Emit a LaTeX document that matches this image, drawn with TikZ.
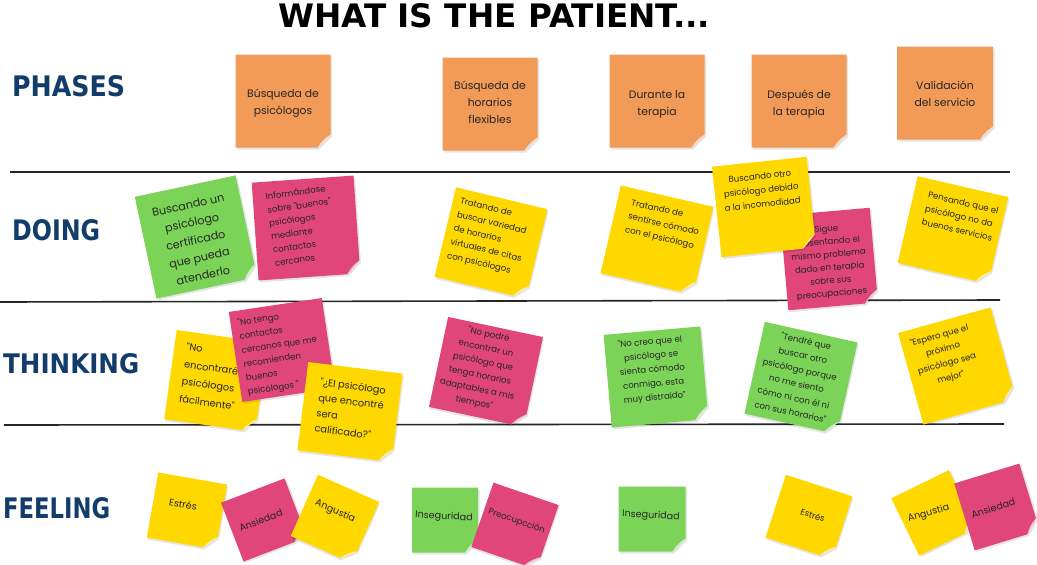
\documentclass[tikz,border=0pt]{standalone}
\usepackage{fontspec}
\usepackage{graphicx}
\newfontfamily\notefont{Poppins}
\newfontfamily\labfont{DejaVu Sans}
\definecolor{noteorange}{HTML}{F29A57}
\definecolor{noteyellow}{HTML}{FFD800}
\definecolor{notegreen}{HTML}{7BD458}
\definecolor{notepink}{HTML}{E04679}
\definecolor{labblue}{HTML}{123D6A}
\tikzset{
  notetext/.style={transform shape, inner sep=0pt, align=center, text=black!85},
  fs/.style={font=\notefont\fontsize{8.6}{14}\selectfont},
  fm/.style={font=\notefont\fontsize{9.6}{15.5}\selectfont},
  fl/.style={font=\notefont\fontsize{11.2}{18}\selectfont},
  fph/.style={font=\notefont\fontsize{10.8}{17}\selectfont},
  rowline/.style={line width=1.6pt, black!85},
  lab/.style={anchor=north west, inner sep=0pt, text=labblue}
}
% #1 name, #2 centre, #3 angle, #4 w, #5 h, #6 colour, #7 text offset, #8 text, #9 text options
\newcommand\sticky[9]{%
\begin{scope}[shift={#2},rotate=#3]
\fill[black,opacity=.10] (-#4/2+1.5,-#5/2+2) -- (#4/2+1.5,-#5/2+2) -- (#4/2+1.5,#5/2-13+2) -- (#4/2-13+1.5,#5/2+2) -- (-#4/2+1.5,#5/2+2) -- cycle;
\fill[#6] (-#4/2,-#5/2) -- (#4/2,-#5/2) -- (#4/2,#5/2-13) -- (#4/2-13,#5/2) -- (-#4/2,#5/2) -- cycle;
\fill[#6!30!white] (#4/2,#5/2-13) -- (#4/2-13,#5/2) .. controls (#4/2-9,#5/2-6) and (#4/2-6,#5/2-9) .. cycle;
\node[notetext,#9] (#1) at #7 {#8};
\end{scope}}
\begin{document}
\begin{tikzpicture}[x=1pt,y=-1pt]
\useasboundingbox (0,0) rectangle (1037,565);
\fill[white] (0,0) rectangle (1037,565);
% row lines
\coordinate (l1a) at (10,172); \coordinate (l1b) at (1010,172);
\coordinate (l2a) at (0,302); \coordinate (l2b) at (1000,300);
\coordinate (l3a) at (4,425); \coordinate (l3b) at (1004,424);
\draw[rowline] (l1a) -- (l1b);
\draw[rowline] (l2a) -- (l2b);
\draw[rowline] (l3a) -- (l3b);
% title and labels
\node[anchor=north west, inner sep=0pt] (title) at (278,3) {\resizebox{432pt}{24pt}{\labfont\bfseries WHAT IS THE PATIENT...}};
\node[lab] (lphases) at (12,75) {\resizebox{113pt}{21pt}{\labfont\bfseries PHASES}};
\node[lab] (ldoing) at (12,219) {\resizebox{88pt}{21pt}{\labfont\bfseries DOING}};
\node[lab] (lthinking) at (3,353) {\resizebox{136pt}{20pt}{\labfont\bfseries THINKING}};
\node[lab] (lfeeling) at (3,497) {\resizebox{107pt}{21pt}{\labfont\bfseries FEELING}};
% phases
\sticky{p1}{(283,101)}{0}{95}{93}{noteorange}{(0,2)}{Búsqueda de\\psicólogos}{fph}
\sticky{p2}{(490,104)}{0}{95}{93}{noteorange}{(0,-2)}{Búsqueda de\\horarios\\flexibles}{fph}
\sticky{p3}{(657,101)}{0}{95}{93}{noteorange}{(0,3)}{Durante la\\terapia}{fph}
\sticky{p4}{(799,101)}{0}{95}{93}{noteorange}{(0,3)}{Después de\\la terapia}{fph}
\sticky{p5}{(945,93)}{0}{96}{93}{noteorange}{(0,1)}{Validación\\del servicio}{fph}
% doing
\sticky{d1}{(196,237)}{12}{103}{104}{notegreen}{(-1,3)}{Buscando un\\psicólogo\\certificado\\que pueda\\atenderlo}{fl}
\sticky{d2}{(306,228)}{4}{102}{98}{notepink}{(-4,-3)}{Informándose\\sobre "buenos"\\psicólogos\\mediante\\contactos\\cercanos}{fs,align=left,rotate=4,font=\notefont\fontsize{8.6}{13.4}\selectfont}
\sticky{d3}{(491,243)}{-13.5}{94}{92}{noteyellow}{(-3,-5)}{Tratando de\\buscar variedad\\de horarios\\virtuales de citas\\con psicólogos}{fs,align=left}
\sticky{d4}{(657,240)}{-13}{95}{90}{noteyellow}{(3,-16)}{Tratando de\\sentirse cómodo\\con el psicólogo}{fs,align=left}
\sticky{d6}{(829,259)}{5}{90}{95}{notepink}{(0,3)}{Sigue\\presentando el\\mismo problema\\dado en terapia\\sobre sus\\preocupaciones}{fs,font=\notefont\fontsize{8.6}{13}\selectfont}
\sticky{d5}{(764,207)}{6}{95}{91}{noteyellow}{(-1,-17)}{Buscando otro\\psicólogo debido\\a la incomodidad}{fs}
\sticky{d7}{(953,230)}{-13}{93}{89}{noteyellow}{(4,-15)}{Pensando que el\\psicólogo no da\\buenos servicios}{fs,align=left}
% thinking
\sticky{t1}{(216,381)}{-8}{92}{90}{noteyellow}{(-6,-4)}{"No\\encontraré\\psicólogos\\fácilmente"}{fm,align=left,font=\notefont\fontsize{9.8}{17.5}\selectfont}
\sticky{t2}{(282,350)}{8.5}{94}{91}{notepink}{(-2,2)}{"No tengo\\contactos\\cercanos que me\\recomienden\\buenos\\psicólogos "}{fs,align=left,font=\notefont\fontsize{8.6}{14}\selectfont}
\sticky{t3}{(350,412)}{-7}{95}{89}{noteyellow}{(0,-3)}{"¿El psicólogo\\que encontré\\sera\\calificado?"}{fm,align=left,font=\notefont\fontsize{9.8}{15.5}\selectfont}
\sticky{t4}{(486,372)}{-12}{97}{92}{notepink}{(-5,-2)}{"No podré\\encontrar un\\psicólogo que\\tenga horarios\\adaptables a mis\\tiempos"}{fs}
\sticky{t5}{(656,377)}{5}{97}{93}{notegreen}{(-3,-7)}{"No creo que el\\psicólogo se\\sienta cómodo\\conmigo, esta\\muy distraído"}{fs}
\sticky{t6}{(801,378)}{-12.5}{95}{94}{notegreen}{(-3,-1)}{"Tendré que\\buscar otro\\psicólogo porque\\no me siento\\cómo ni con él ni\\con sus horarios"}{fs,font=\notefont\fontsize{8.6}{14.5}\selectfont}
\sticky{t7}{(957,366)}{15.5}{96}{95}{noteyellow}{(-9,-12)}{"Espero que el\\próximo\\psicólogo sea\\mejor"}{fs,font=\notefont\fontsize{8.6}{14.5}\selectfont}
% feeling
\sticky{f1}{(187,511)}{-10}{70}{66}{noteyellow}{(-5,-6)}{Estrés}{fm}
\sticky{f2}{(264,520)}{21}{68}{63}{notepink}{(-3,-1)}{Ansiedad}{fm}
\sticky{f3}{(335,519)}{-24}{67}{67}{noteyellow}{(-3,-7)}{Angustia}{fm}
\sticky{f4}{(445,520)}{0}{66}{65}{notegreen}{(-1,-3)}{Inseguridad}{fm,rotate=-3}
\sticky{f5}{(515,526)}{-19}{69}{68}{notepink}{(0,-5)}{Preocupcción}{fs}
\sticky{f6}{(652,519)}{0}{67}{65}{notegreen}{(-1,-3)}{Inseguridad}{fm,rotate=-3}
\sticky{f7}{(809,517)}{-18}{70}{66}{noteyellow}{(3,-3)}{Estrés}{fs}
\sticky{f8}{(934,513)}{26}{64}{64}{noteyellow}{(-5,-2)}{Angustia}{fm,rotate=-10}
\sticky{f9}{(997,507)}{17}{68}{70}{notepink}{(-4,0)}{Ansiedad}{fm}
\end{tikzpicture}
\end{document}
